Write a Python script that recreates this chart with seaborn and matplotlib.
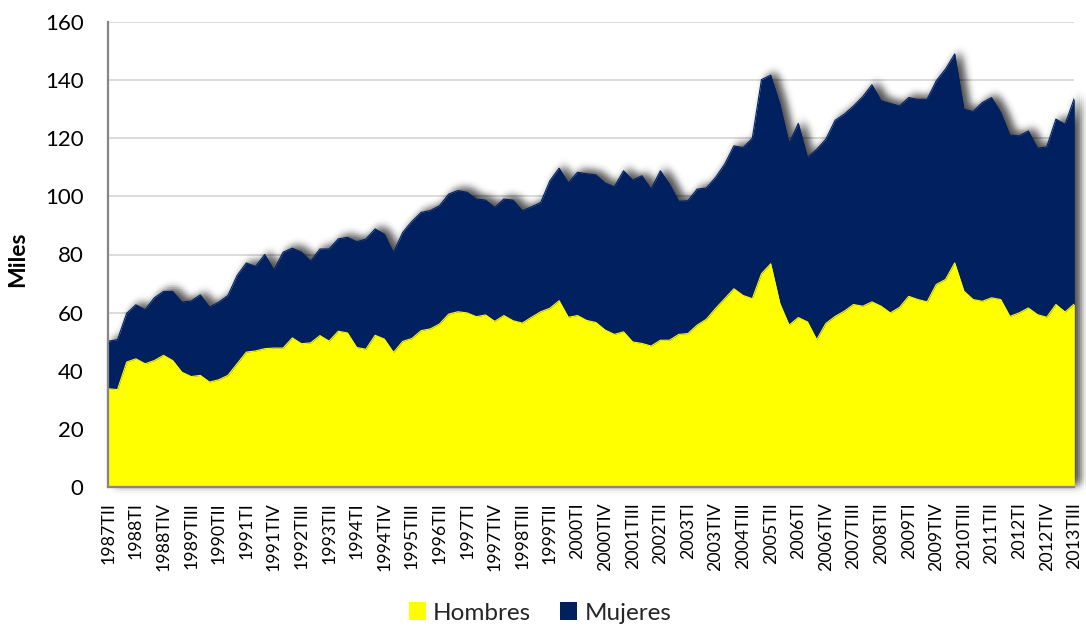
import numpy as np
import pandas as pd
import matplotlib
matplotlib.use("Agg")
import matplotlib.pyplot as plt
import matplotlib.transforms as mtransforms
from matplotlib.patches import Patch
import seaborn as sns

# ---------------- data ----------------
roman = ["TI", "TII", "TIII", "TIV"]
years = list(range(1987, 2014))
quarters = [f"{y}{r}" for y in years for r in roman][1:-1]  # 1987TII .. 2013TIII

hombres = [
    33.8, 33.5, 43.0, 44.1, 42.4, 43.5, 45.3, 43.5, 39.5, 38.0,
    38.4, 36.1, 36.9, 38.4, 42.4, 46.4, 46.8, 47.6, 47.8, 47.8,
    51.3, 49.3, 49.6, 52.1, 50.2, 53.6, 53.0, 48.0, 47.4, 52.2,
    50.9, 46.3, 50.1, 51.1, 53.8, 54.4, 56.1, 59.5, 60.3, 59.9,
    58.6, 59.2, 57.0, 59.0, 57.2, 56.4, 58.4, 60.3, 61.5, 64.1,
    58.4, 59.0, 57.3, 56.6, 54.0, 52.5, 53.4, 49.9, 49.4, 48.5,
    50.5, 50.5, 52.5, 52.8, 55.7, 57.7, 61.4, 64.8, 68.2, 65.9,
    64.8, 73.4, 76.8, 63.1, 55.7, 58.3, 56.8, 50.7, 56.3, 58.7,
    60.5, 62.8, 62.2, 63.7, 62.2, 59.9, 61.8, 65.6, 64.5, 63.7,
    69.7, 71.4, 77.1, 67.4, 64.5, 63.9, 65.1, 64.5, 58.7, 59.9,
    61.6, 59.3, 58.4, 62.8, 60.2, 63.0,
]
mujeres = [
    16.4, 17.2, 16.8, 18.6, 18.6, 21.6, 22.0, 23.8, 24.1, 26.0,
    27.7, 25.8, 26.7, 27.5, 30.4, 30.7, 29.1, 32.4, 26.9, 33.0,
    30.9, 31.5, 28.1, 29.8, 31.7, 31.8, 32.9, 36.4, 37.9, 36.6,
    36.1, 34.4, 37.5, 40.3, 40.7, 40.7, 40.7, 41.3, 41.7, 41.5,
    40.5, 39.5, 39.2, 40.1, 41.5, 38.7, 38.0, 37.6, 43.9, 45.6,
    46.2, 49.3, 50.5, 50.8, 50.6, 50.8, 55.4, 55.7, 57.7, 54.0,
    58.3, 53.7, 45.8, 45.7, 46.8, 45.2, 45.1, 46.3, 49.2, 50.9,
    55.2, 66.8, 64.9, 68.6, 62.5, 66.8, 56.6, 65.5, 63.4, 67.5,
    67.8, 68.3, 72.1, 74.7, 70.7, 72.1, 69.3, 68.4, 68.9, 69.7,
    70.1, 72.4, 71.9, 62.6, 64.7, 68.4, 68.9, 64.4, 62.4, 60.9,
    60.9, 57.3, 58.6, 63.8, 64.6, 70.8,
]
yticks = [0, 20, 40, 60, 80, 100, 120, 140, 160]

YELLOW = "#FFFF00"
NAVY = "#002060"
AXIS_GRAY = "#868686"

df = pd.DataFrame({"Trimestre": quarters, "Hombres": hombres, "Mujeres": mujeres})
df["pos"] = np.arange(len(df))
df["Total"] = df["Hombres"] + df["Mujeres"]

# ---------------- style ----------------
sns.set_theme(style="white")
plt.rcParams["font.family"] = ["Lato", "DejaVu Sans"]

W, H = 1086, 628
fig = plt.figure(figsize=(W / 100, H / 100), dpi=100)
x0, x1, ytop, ybot = 108.3, 1074.3, 22, 487
ax = fig.add_axes([x0 / W, 1 - ybot / H, (x1 - x0) / W, (ybot - ytop) / H])

# gridlines
ax.set_axisbelow(True)
ax.yaxis.grid(True, color="#D9D9D9", linewidth=1.3)
ax.xaxis.grid(False)

# blurred drop shadow of the stacked area (offset up-right)
cx, cy, sigma = 5.0, 3.0, 4.5   # pixels
offs = np.arange(-12, 12.01, 2.0)
layers = []
for dx in offs:
    for dy in offs:
        r2 = dx * dx + dy * dy
        if r2 > 144:
            continue
        layers.append((dx, dy, np.exp(-r2 / (2 * sigma ** 2))))
wsum = sum(l[2] for l in layers)
for dx, dy, w in layers:
    tr = mtransforms.offset_copy(ax.transData, fig=fig,
                                 x=(cx + dx) * 0.72, y=(cy + dy) * 0.72,
                                 units="points")
    ax.fill_between(df["pos"], 0, df["Total"], color="black",
                    alpha=min(1.0, 0.95 * w / wsum), linewidth=0,
                    transform=tr, zorder=1, clip_on=False)

# stacked areas
ax.fill_between(df["pos"], df["Hombres"], df["Total"], color=NAVY,
                linewidth=0, zorder=2)
ax.fill_between(df["pos"], 0, df["Hombres"], color=YELLOW,
                linewidth=0, zorder=3)
sns.lineplot(data=df, x="pos", y="Total", color=NAVY, linewidth=0.8,
             ax=ax, zorder=2.5, legend=False)
sns.lineplot(data=df, x="pos", y="Hombres", color=YELLOW, linewidth=0.8,
             ax=ax, zorder=3.5, legend=False)

# axes
ax.set_xlim(0, len(df) - 1)
ax.set_ylim(0, 160)
ax.set_yticks(yticks)
ax.set_yticklabels([str(v) for v in yticks], fontsize=16, color="black")
ax.set_xticks(df["pos"][::3])
ax.set_xticklabels(df["Trimestre"][::3], rotation=90, fontsize=12.8,
                   color="black")
ax.set_xticks(df["pos"], minor=True)
ax.tick_params(axis="both", which="both", direction="out", length=5.8,
               width=1.3, color=AXIS_GRAY)
ax.tick_params(axis="y", pad=12)
ax.tick_params(axis="x", which="both", pad=5)

for s in ["top", "right"]:
    ax.spines[s].set_visible(False)
for s in ["left", "bottom"]:
    ax.spines[s].set_color(AXIS_GRAY)
    ax.spines[s].set_linewidth(1.6)
    ax.spines[s].set_zorder(5)

ax.set_xlabel("")
ax.set_ylabel("Miles", fontsize=16.5, fontweight="bold", color="black")
ax.yaxis.set_label_coords(-(x0 - 28) / (x1 - x0), 0.49)

# legend
handles = [Patch(facecolor=YELLOW, edgecolor="none", label="Hombres"),
           Patch(facecolor=NAVY, edgecolor="none", label="Mujeres")]
fig.legend(handles=handles, loc="center", bbox_to_anchor=(540 / W, 1 - 613 / H),
           ncol=2, frameon=False, fontsize=17.5, handlelength=0.7,
           handleheight=0.7, columnspacing=1.2, handletextpad=0.3)

fig.savefig("out.png", dpi=100)
